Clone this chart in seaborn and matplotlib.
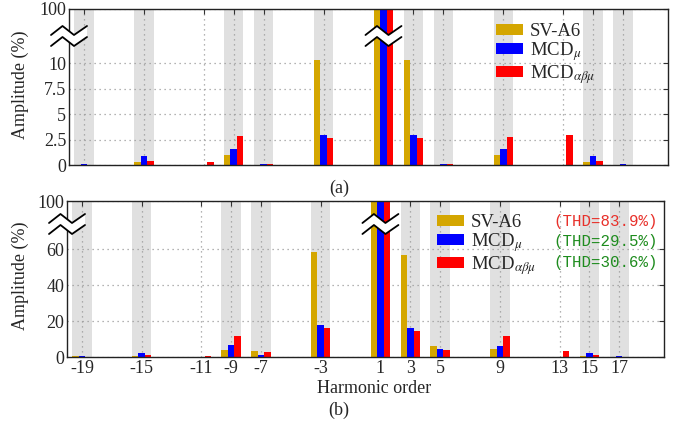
import numpy as np
import pandas as pd
import matplotlib
matplotlib.use("Agg")
import matplotlib.pyplot as plt
import matplotlib.transforms as mtransforms
from matplotlib.patches import Patch, Polygon
import seaborn as sns

# ---------------- data ----------------
harmonics = [-19, -15, -11, -9, -7, -3, 1, 3, 5, 9, 13, 15, 17]
tick_labels = ["-19", "-15", "-11", "-9", "-7", "-3", "1", "3", "5", "9", "13", "15", "17"]
bands = [-19, -15, -9, -7, -3, 3, 5, 9, 15, 17]
methods = ["SV-A6", "MCD$_{\\mu}$", "MCD$_{\\alpha\\beta\\mu}$"]

sv_a = [0.0, 0.33, 0.0, 0.98, 0.0, 10.3, 100, 10.3, 0.0, 0.98, 0.0, 0.33, 0.0]
mu_a = [0.05, 0.88, 0.0, 1.57, 0.05, 2.9, 100, 2.94, 0.05, 1.57, 0.0, 0.88, 0.05]
abm_a = [0.02, 0.39, 0.33, 2.81, 0.05, 2.68, 100, 2.68, 0.05, 2.78, 2.9, 0.39, 0.02]

sv_b = [0.5, 0.5, 0.0, 4.1, 3.5, 58.5, 100, 56.9, 6.3, 4.4, 0.0, 0.7, 0.0]
mu_b = [0.7, 2.2, 0.0, 6.7, 0.9, 18.0, 100, 16.1, 4.4, 6.3, 0.0, 2.0, 0.7]
abm_b = [0.2, 1.1, 0.6, 11.9, 2.8, 16.3, 100, 14.6, 3.9, 11.5, 3.1, 0.9, 0.2]

yticks_a = [0, 2.5, 5, 7.5, 10, 100]
ytick_labels_a = ["0", "2.5", "5", "7.5", "10", "100"]
yticks_b = [0, 20, 40, 60, 100]
ytick_labels_b = ["0", "20", "40", "60", "100"]

thd_texts = ["(THD=83.9%)", "(THD=29.5%)", "(THD=30.6%)"]
thd_colors = ["#e8302a", "#1e8c1e", "#1e8c1e"]

colors = ["#d4a600", "#0000ff", "#ff0000"]

# ---------------- style ----------------
sns.set_style("white")
plt.rcParams["font.family"] = ["Liberation Serif", "DejaVu Serif"]
plt.rcParams["mathtext.fontset"] = "stix"
plt.rcParams["font.size"] = 13

fig = plt.figure(figsize=(6.76, 4.23), dpi=100)
W, H = 676, 423


def axes_px(left, top, right, bottom):
    return fig.add_axes([left / W, 1 - bottom / H, (right - left) / W, (bottom - top) / H])


ax_a = axes_px(69, 9, 668, 165)
ax_b = axes_px(67, 201, 664, 357)


def make_scale(brk, top):
    k = (top - brk) / (100.0 - brk)

    def fwd(y):
        y = np.asarray(y, dtype=float)
        return np.where(y <= brk, y, brk + (y - brk) * k)

    def inv(z):
        z = np.asarray(z, dtype=float)
        return np.where(z <= brk, z, brk + (z - brk) / k)

    return fwd, inv


def draw_break(ax, xa, ya):
    trans = fig.dpi_scale_trans + mtransforms.ScaledTranslation(xa, ya, ax.transAxes)
    xs = np.array([-18, -6.5, 5, 18]) / 100.0
    yu = (np.array([-4.5, 4.5, -4.5, 4.5]) + 5.5) / 100.0
    yl = (np.array([-4.5, 4.5, -4.5, 4.5]) - 5.5) / 100.0
    poly = np.vstack([np.column_stack([xs, yu]), np.column_stack([xs[::-1], yl[::-1]])])
    ax.add_patch(Polygon(poly, closed=True, facecolor="white", edgecolor="none",
                         transform=trans, clip_on=False, zorder=10))
    ax.plot(xs, yu, color="black", lw=1.3, transform=trans, clip_on=False, zorder=11)
    ax.plot(xs, yl, color="black", lw=1.3, transform=trans, clip_on=False, zorder=11)


def panel(ax, vals, brk, top, yticks, ylabels, show_xlabels):
    df = pd.DataFrame({
        "harmonic": list(harmonics) * 3,
        "method": [m for m in methods for _ in harmonics],
        "amp": list(vals[0]) + list(vals[1]) + list(vals[2]),
    })
    for b in bands:
        ax.axvspan(b - 0.65, b + 0.65, color="#e0e0e0", lw=0, zorder=0)
    sns.barplot(data=df, x="harmonic", y="amp", hue="method", hue_order=methods,
                palette=colors, native_scale=True, width=0.65, errorbar=None,
                legend=False, linewidth=0, saturation=1, ax=ax, zorder=2)
    fwd, inv = make_scale(brk, top)
    ax.set_yscale("function", functions=(fwd, inv))
    ax.set_ylim(0, 100)
    ax.set_xlim(-20, 20)
    ax.set_yticks(yticks)
    ax.set_yticklabels(ylabels)
    ax.set_xticks(harmonics)
    if show_xlabels:
        ax.set_xticklabels(tick_labels)
    else:
        ax.set_xticklabels([])
    ax.set_xlabel("")
    ax.set_ylabel("")
    ax.set_axisbelow(True)
    ax.grid(True, ls=(0, (1, 3)), color="#9a9a9a", lw=0.9, zorder=1)
    ax.tick_params(direction="in", length=3.5, width=0.8, top=True, right=True,
                   labelsize=13, pad=2, color="#333333")
    for s in ax.spines.values():
        s.set_color("#222222")
        s.set_linewidth(1.0)


panel(ax_a, (sv_a, mu_a, abm_a), 12.0, 15.3, yticks_a, ytick_labels_a, False)
panel(ax_b, (sv_b, mu_b, abm_b), 72.0, 86.8, yticks_b, ytick_labels_b, True)

# broken-axis symbols
draw_break(ax_a, 0.0, (165 - 36) / 156)
draw_break(ax_a, (1 + 20) / 40, (165 - 36) / 156)
draw_break(ax_b, 0.0, (357 - 224) / 156)
draw_break(ax_b, (1 + 20) / 40, (357 - 224) / 156)

# legends
handles = [Patch(facecolor=c, edgecolor="none") for c in colors]
leg_kw = dict(frameon=False, fontsize=13.5, handlelength=1.45, handleheight=0.5,
              labelspacing=0.0, handletextpad=0.35, borderpad=0, borderaxespad=0,
              loc="upper left")
ax_a.legend(handles, methods, bbox_to_anchor=((496 - 69) / 599, (165 - 23) / 156), **leg_kw)
ax_b.legend(handles, methods, bbox_to_anchor=((437 - 67) / 597, (357 - 214) / 156), **leg_kw)

for i, (t, c) in enumerate(zip(thd_texts, thd_colors)):
    ypx = 221 + 20.5 * i
    ax_b.text((553 - 67) / 597, (357 - ypx) / 156, t, color=c, fontsize=11.3,
              family=["Liberation Mono", "DejaVu Sans Mono"], va="center", ha="left",
              transform=ax_b.transAxes)

# labels
fig.text(20 / W, 1 - 85 / H, "Amplitude (%)", rotation=90, ha="center", va="center", fontsize=13)
fig.text(20 / W, 1 - 276 / H, "Amplitude (%)", rotation=90, ha="center", va="center", fontsize=13)
fig.text(374 / W, 1 - 388 / H, "Harmonic order", ha="center", va="center", fontsize=13)
fig.text(339 / W, 1 - 188 / H, "(a)", ha="center", va="center", fontsize=13)
fig.text(339 / W, 1 - 410 / H, "(b)", ha="center", va="center", fontsize=13)

fig.savefig("out.png", dpi=100)
